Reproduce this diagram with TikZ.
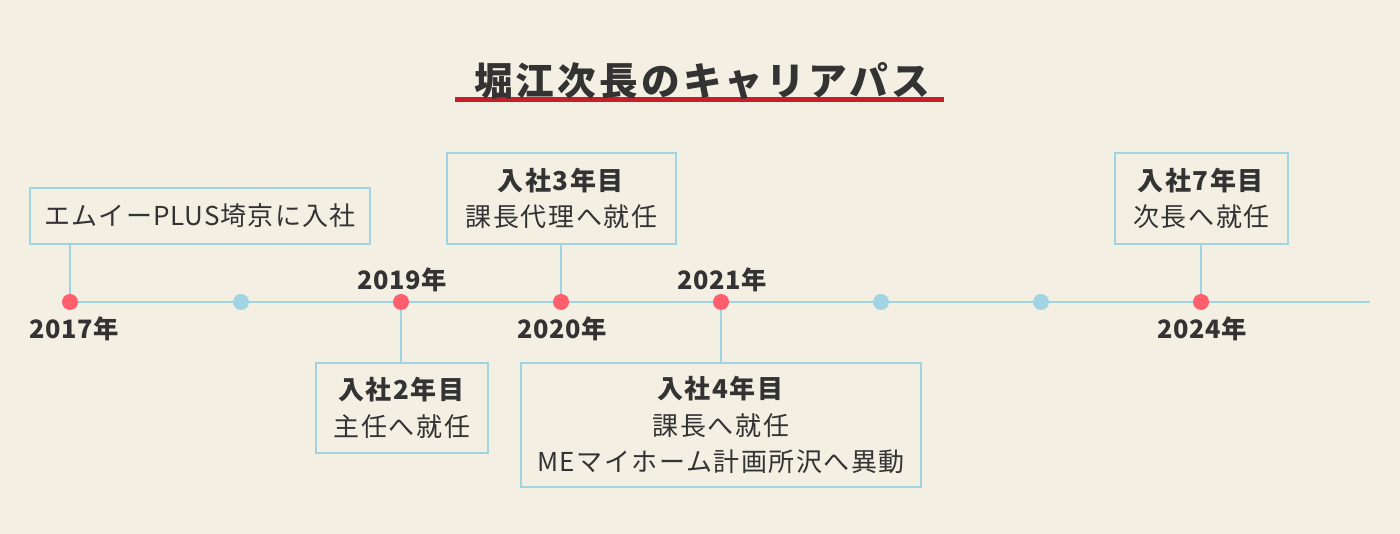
\documentclass[tikz,border=0pt]{standalone}
\usepackage{fontspec}
\setmainfont{Noto Sans CJK JP}[LetterSpace=6]
\definecolor{bg}{HTML}{F3EFE2}
\definecolor{lineblue}{HTML}{A0D4E2}
\definecolor{dotred}{HTML}{FF5F6D}
\definecolor{titlered}{HTML}{C81E2A}
\definecolor{ink}{HTML}{333333}
\tikzset{
  tl/.style={draw=lineblue, line width=1.5pt},
  reddot/.style={circle, fill=dotred, minimum size=12pt, inner sep=0pt},
  bluedot/.style={circle, fill=lineblue, minimum size=12pt, inner sep=0pt},
  year/.style={font=\fontsize{19pt}{20pt}\selectfont\bfseries\addfontfeatures{LetterSpace=2}, text=ink, inner sep=0pt},
  infobox/.style={draw=lineblue, line width=1.5pt, fill=bg, text=ink, align=center, inner sep=0pt,
    font=\fontsize{19.5pt}{27.5pt}\selectfont},
}
\begin{document}
\begin{tikzpicture}[x=0.75pt,y=-0.75pt]
\fill[bg] (0,0) rectangle (1400,534);
\useasboundingbox (0,0) rectangle (1400,534);
% title
\fill[titlered] (455,97.5) rectangle (944,102.5);
\node[font=\fontsize{29pt}{30pt}\selectfont\bfseries\addfontfeatures{LetterSpace=8}, text=ink, inner sep=0pt] (title) at (702,81) {堀江次長のキャリアパス};
% timeline
\coordinate (tlstart) at (70,302);
\coordinate (tlend) at (1370,302);
\draw[tl] (tlstart) -- (tlend);
% dots
\node[reddot] (d2017) at (70,302) {};
\node[bluedot] (d2018) at (241,302) {};
\node[reddot] (d2019) at (401,302) {};
\node[reddot] (d2020) at (561,302) {};
\node[reddot] (d2021) at (721,302) {};
\node[bluedot] (d2022) at (881,302) {};
\node[bluedot] (d2023) at (1041,302) {};
\node[reddot] (d2024) at (1201,302) {};
% boxes
\node[infobox, minimum width=255pt, minimum height=42pt] (b1) at (200,216) {\addfontfeatures{LetterSpace=4}エムイーPLUS埼京に入社};
\node[infobox, minimum width=129pt, minimum height=67.5pt] (b2) at (402,408) {\textbf{入社2年目}\\主任へ就任};
\node[infobox, minimum width=171.75pt, minimum height=68.25pt] (b3) at (561.5,198.5) {\textbf{入社3年目}\\課長代理へ就任};
\node[infobox, minimum width=300pt, minimum height=93pt] (b4) at (721,425) {\textbf{入社4年目}\\課長へ就任\\MEマイホーム計画所沢へ異動};
\node[infobox, minimum width=129.75pt, minimum height=68.25pt] (b5) at (1201.5,198.5) {\textbf{入社7年目}\\次長へ就任};
% connectors
\draw[tl] (b1.south -| d2017) -- (d2017.north);
\draw[tl] (d2019.south) -- (b2.north -| d2019);
\draw[tl] (b3.south -| d2020) -- (d2020.north);
\draw[tl] (d2021.south) -- (b4.north -| d2021);
\draw[tl] (b5.south -| d2024) -- (d2024.north);
% years
\node[year] (y2017) at (74,329) {2017年};
\node[year] (y2019) at (402,280) {2019年};
\node[year] (y2020) at (562,329) {2020年};
\node[year] (y2021) at (722,280) {2021年};
\node[year] (y2024) at (1202,329) {2024年};
\end{tikzpicture}
\end{document}
